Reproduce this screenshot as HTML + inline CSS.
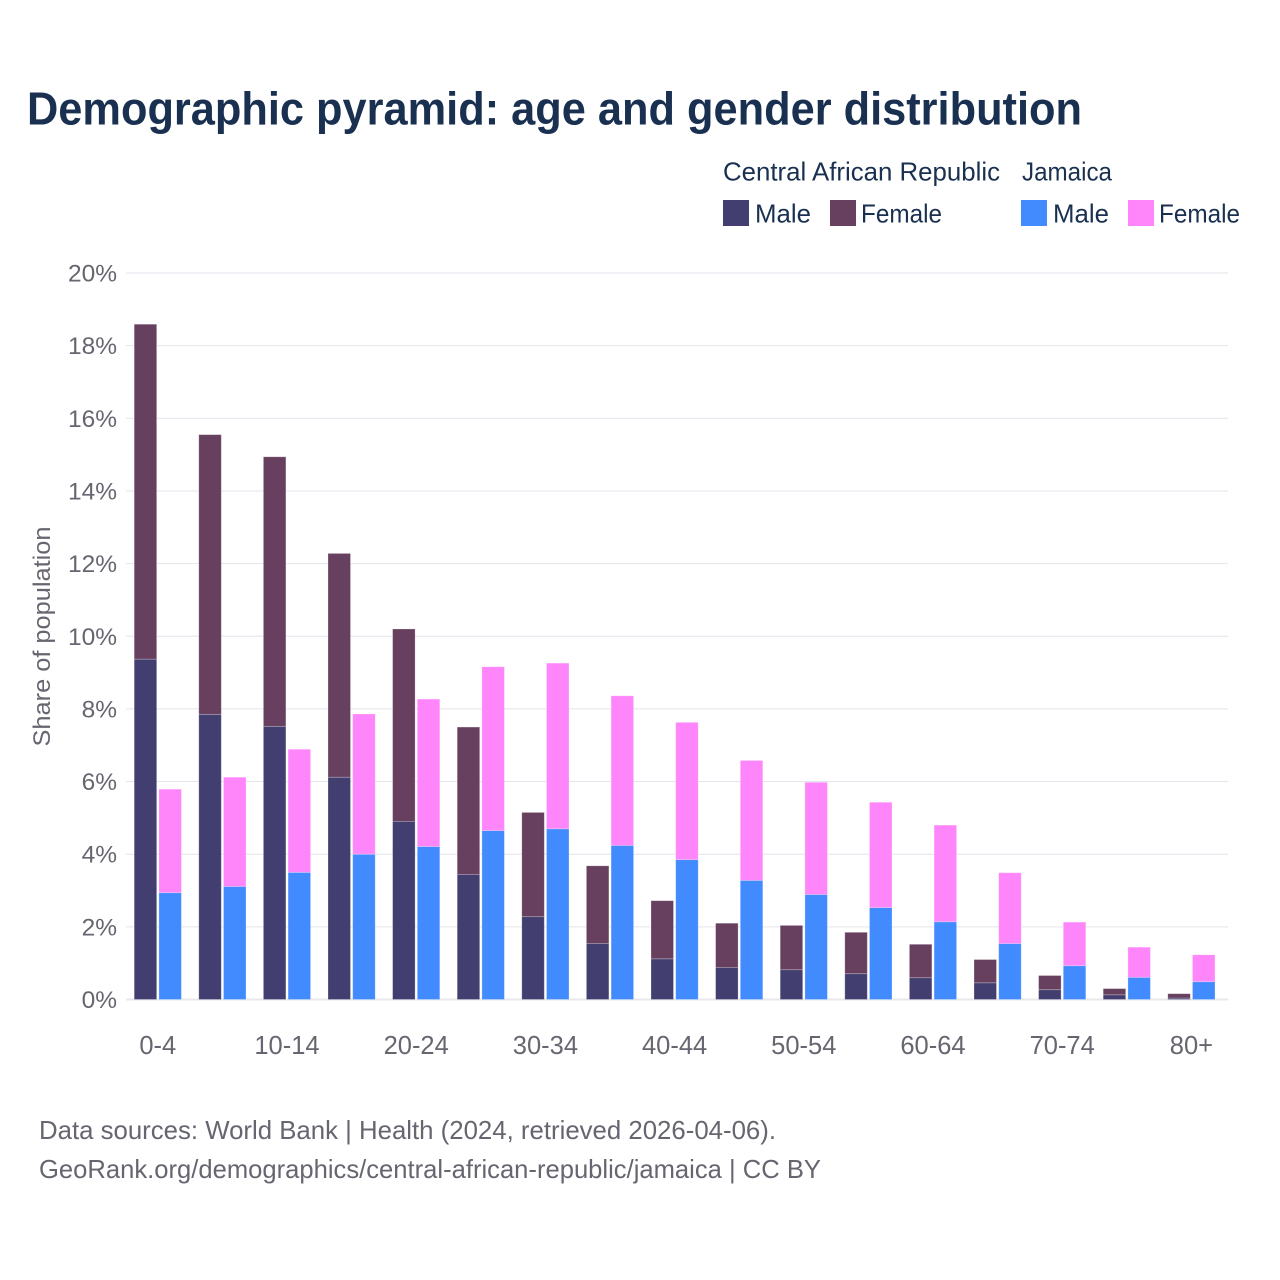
<!DOCTYPE html>
<html lang="en">
<head>
<meta charset="utf-8">
<title>Demographic pyramid: age and gender distribution</title>
<style>
html,body{margin:0;padding:0;background:#fff;}
svg{display:block;font-family:"Liberation Sans",sans-serif;}
</style>
</head>
<body>
<svg id="chart" width="1280" height="1280" viewBox="0 0 1280 1280" xmlns="http://www.w3.org/2000/svg">
  <rect x="0" y="0" width="1280" height="1280" fill="#ffffff"/>
  <text x="27" y="124.5" font-size="46" font-weight="700" fill="#1a3050" textLength="1055" lengthAdjust="spacingAndGlyphs">Demographic pyramid: age and gender distribution</text>

  <g font-size="26" fill="#1a3050">
    <text x="723" y="180.5" textLength="277" lengthAdjust="spacingAndGlyphs">Central African Republic</text>
    <text x="1022" y="180.5" textLength="90" lengthAdjust="spacingAndGlyphs">Jamaica</text>
    <rect x="723" y="200" width="26" height="26" fill="#423e70"/>
    <text x="755" y="222.5" textLength="56" lengthAdjust="spacingAndGlyphs">Male</text>
    <rect x="830" y="200" width="26" height="26" fill="#67405f"/>
    <text x="861" y="222.5" textLength="81" lengthAdjust="spacingAndGlyphs">Female</text>
    <rect x="1021" y="200" width="26" height="26" fill="#418bff"/>
    <text x="1053" y="222.5" textLength="56" lengthAdjust="spacingAndGlyphs">Male</text>
    <rect x="1128" y="200" width="26" height="26" fill="#ff85fb"/>
    <text x="1159" y="222.5" textLength="81" lengthAdjust="spacingAndGlyphs">Female</text>
  </g>

  <text transform="translate(50,636.5) rotate(-90)" text-anchor="middle" font-size="24" fill="#666670" textLength="220" lengthAdjust="spacingAndGlyphs">Share of population</text>

  <g id="grid"></g>
  <g id="yticks"></g>
  <g id="xticks"></g>
  <g id="bars"></g>

  <text x="39" y="1139" font-size="26" fill="#666670" textLength="737" lengthAdjust="spacingAndGlyphs">Data sources: World Bank | Health (2024, retrieved 2026-04-06).</text>
  <text x="39" y="1178" font-size="26" fill="#666670" textLength="782" lengthAdjust="spacingAndGlyphs">GeoRank.org/demographics/central-african-republic/jamaica | CC BY</text>
</svg>
<script>
const categories = ["0-4","5-9","10-14","15-19","20-24","25-29","30-34","35-39","40-44","45-49","50-54","55-59","60-64","65-69","70-74","75-79","80+"];
const carMale = [9.37,7.85,7.52,6.12,4.90,3.44,2.28,1.54,1.12,0.88,0.82,0.71,0.60,0.46,0.27,0.13,0.04];
const carFemale = [9.22,7.70,7.42,6.16,5.30,4.06,2.87,2.14,1.60,1.22,1.22,1.14,0.92,0.64,0.39,0.17,0.12];
const jamaicaMale = [2.94,3.11,3.50,4.00,4.21,4.65,4.70,4.24,3.85,3.28,2.89,2.53,2.14,1.54,0.93,0.61,0.49];
const jamaicaFemale = [2.85,3.01,3.39,3.86,4.06,4.51,4.56,4.12,3.78,3.30,3.09,2.90,2.66,1.95,1.20,0.83,0.74];
const yTickValues = [0,2,4,6,8,10,12,14,16,18,20];
const xTickLabels = ["0-4","10-14","20-24","30-34","40-44","50-54","60-64","70-74","80+"];

const NS = "http://www.w3.org/2000/svg";
const plotLeft = 126, plotRight = 1228, y0 = 999.5, yTop = 273, yMax = 20;
const step = 64.6, firstBar = 134.2, barW = 22.5, pairGap = 24.7;

function yScale(v) { return y0 - (v / yMax) * (y0 - yTop); }
function bandX(i) { return firstBar + i * step; }
function mk(tag, attrs) {
  const el = document.createElementNS(NS, tag);
  for (const k in attrs) el.setAttribute(k, attrs[k]);
  return el;
}

const grid = document.getElementById("grid");
const yticks = document.getElementById("yticks");
yTickValues.forEach(function (v) {
  const line = mk("line", { x1: plotLeft, x2: plotRight, y1: yScale(v), y2: yScale(v), stroke: v === 0 ? "#e8e8ea" : "#e4e4ec", "stroke-width": v === 0 ? 2 : 1 });
  
  
  grid.appendChild(line);
  const t = mk("text", { x: 117, y: yScale(v) + 8.5, "text-anchor": "end", "font-size": 24.5, fill: "#666670" });
  
  
  t.textContent = v + "%";
  yticks.appendChild(t);
});

const xticks = document.getElementById("xticks");
xTickLabels.forEach(function (label) {
  const i = categories.indexOf(label);
  const t = mk("text", { x: bandX(i) + (barW * 2 + 2.2) / 2, y: 1054, "text-anchor": "middle", "font-size": 25.5, fill: "#666670" });
  
  
  t.textContent = label;
  xticks.appendChild(t);
});

const bars = document.getElementById("bars");
function drawSegment(x, base, value, color) {
  const top = yScale(base + value);
  const r = mk("rect", { x: x, y: top, width: barW, height: yScale(base) - top, fill: color, stroke: "#ffffff", "stroke-opacity": 0.3, "stroke-width": 0.8 });
  
  
  bars.appendChild(r);
}
categories.forEach(function (c, i) {
  const x1 = bandX(i), x2 = x1 + pairGap;
  drawSegment(x1, 0, carMale[i], "#423e70");
  drawSegment(x1, carMale[i], carFemale[i], "#67405f");
  drawSegment(x2, 0, jamaicaMale[i], "#418bff");
  drawSegment(x2, jamaicaMale[i], jamaicaFemale[i], "#ff85fb");
});
</script>
</body>
</html>
